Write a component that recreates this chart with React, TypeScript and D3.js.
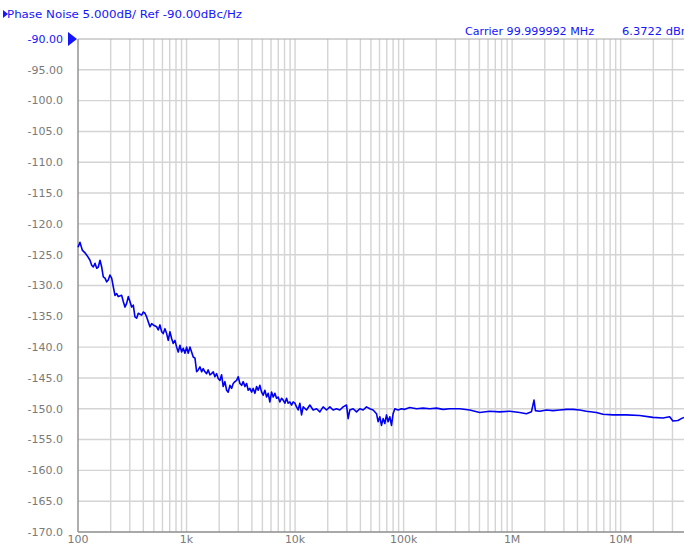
import React from 'react';
import * as d3 from 'd3';

// trace data: offset frequency (Hz) and phase noise (dBc/Hz)
const offsetHz = [
  100, 104.3, 109.5, 116, 121.8, 129, 133.7, 138.3, 143.4, 148.7, 153.8, 159.5, 165.3, 171, 177.3, 183.8, 190.1, 197,
  204.3, 211.4, 219.1, 227.2, 235, 252.6, 261.3, 270.9, 280.8, 290.5, 301.2, 312.2, 323, 334.8, 347.1, 359.1, 385.9,
  399.2, 414, 429.2, 444, 460.3, 477.2, 493.6, 530.5, 548.8, 568.9, 589.8, 610.2, 632.5, 655.8, 678.4, 703.3, 729.1,
  754.2, 782, 810.6, 838.7, 869.4, 901.3, 932.4, 966.7, 1002, 1037, 1075, 1114, 1153, 1196, 1239, 1282, 1329, 1377,
  1425, 1477, 1531, 1584, 1643, 1702, 1762, 1826, 1893, 1958, 2030, 2105, 2178, 2258, 2341, 2421, 2510, 2602, 2692,
  2791, 2893, 2994, 3103, 3217, 3328, 3451, 3577, 3700, 3836, 3977, 4114, 4265, 4422, 4574, 4742, 4914, 5084, 5271,
  5465, 5653, 5861, 6075, 6284, 6516, 6755, 6988, 7244, 7511, 7769, 8055, 8350, 8639, 8957, 9286, 9605, 9958, 10320,
  10680, 11070, 11480, 11880, 12760, 13690, 14680, 15780, 16920, 18150, 19510, 20920, 22430, 24110, 25850, 27730,
  29800, 30830, 31960, 34280, 36840, 39520, 42380, 45530, 48840, 52390, 56290, 58230, 60380, 62600, 64760, 67140,
  69600, 72010, 74640, 77380, 80040, 82980, 88990, 95650, 102600, 114000, 131500, 151200, 174300, 200900, 231100,
  266300, 329300, 406900, 503100, 621900, 768900, 950400, 1175000, 1354000, 1506000, 1591000, 1639000, 1796000,
  2069000, 2380000, 2744000, 3162000, 3637000, 4194000, 4833000, 5974000, 6871000, 8494000, 11290000, 14960000,
  19830000, 24520000, 28270000, 30310000, 33700000, 36220000, 38280000,
];

const noiseDbc = [
  -123.8, -123.0, -124.25, -124.7, -125.2, -125.9, -126.7, -127.0, -126.4, -127.2, -127.0, -125.9, -127.0, -128.6,
  -128.8, -129.4, -129.1, -128.3, -128.8, -130.2, -131.6, -131.3, -131.8, -131.6, -132.6, -133.5, -132.9, -131.8,
  -132.6, -133.5, -133.2, -135.1, -135.3, -134.5, -134.8, -134.3, -134.5, -135.1, -135.9, -136.7, -136.2, -136.4,
  -136.7, -137.2, -136.4, -137.5, -137.8, -137.0, -137.8, -138.9, -137.5, -138.6, -139.4, -138.9, -140.0, -140.8,
  -139.7, -140.8, -140.2, -141.0, -140.0, -141.0, -140.0, -140.8, -141.6, -141.8, -144.0, -143.7, -143.2, -144.0,
  -143.5, -144.0, -144.3, -143.7, -144.5, -144.3, -144.0, -144.8, -144.3, -145.1, -145.4, -144.5, -146.4, -145.6,
  -147.0, -147.3, -146.2, -146.7, -145.9, -145.6, -145.4, -144.8, -145.9, -146.2, -145.6, -146.4, -145.9, -147.0,
  -146.7, -147.3, -146.7, -147.5, -146.4, -147.0, -146.2, -147.3, -147.8, -147.0, -148.1, -147.5, -148.9, -147.3,
  -148.1, -147.5, -148.3, -148.1, -148.9, -148.3, -148.6, -149.1, -148.3, -149.1, -148.9, -149.4, -148.9, -149.1,
  -149.7, -150.2, -149.1, -151.0, -149.7, -150.2, -149.4, -150.2, -150.0, -150.5, -149.7, -150.2, -149.7, -150.2,
  -150.0, -150.2, -149.7, -149.4, -151.6, -150.2, -150.0, -150.5, -150.0, -150.2, -149.7, -150.0, -150.2, -150.8,
  -152.1, -151.3, -152.7, -151.6, -152.4, -151.0, -152.1, -151.3, -152.7, -150.8, -150.0, -150.2, -150.0, -150.1,
  -149.8, -150.0, -149.9, -150.0, -149.9, -150.1, -150.0, -150.0, -150.2, -150.6, -150.4, -150.5, -150.4, -150.6,
  -150.8, -150.5, -148.6, -150.3, -150.4, -150.2, -150.3, -150.2, -150.1, -150.1, -150.2, -150.4, -150.6, -150.9,
  -151.0, -151.0, -151.1, -151.4, -151.5, -151.3, -152.0, -151.9, -151.6, -151.4,
];

const yTickValues = [-90, -95, -100, -105, -110, -115, -120, -125, -130, -135, -140, -145, -150, -155, -160, -165, -170];
const yTickLabels = ['-90.00', '-95.00', '-100.0', '-105.0', '-110.0', '-115.0', '-120.0', '-125.0', '-130.0', '-135.0',
  '-140.0', '-145.0', '-150.0', '-155.0', '-160.0', '-165.0', '-170.0'];
const xTickValues = [100, 1e3, 1e4, 1e5, 1e6, 1e7];
const xTickLabels = ['100', '1k', '10k', '100k', '1M', '10M'];

const W = 684;
const H = 546;
const FONT = '"DejaVu Sans", Tahoma, sans-serif';
const BLUE = '#1414ff';

export default function App() {
  const x = d3.scaleLog().domain([100, 4e7]).range([78, 686]);
  const y = d3.scaleLinear().domain([-170, -90]).range([532, 39]);

  // minor grid: 1..9 x each decade
  const gridX: number[] = [];
  for (let dec = 100; dec < 4e7; dec *= 10) {
    for (let m = 1; m <= 9; m++) {
      const f = dec * m;
      if (f > 100 && f < 4e7) gridX.push(f);
    }
  }

  const points = offsetHz.map((f, i) => [f, noiseDbc[i]] as [number, number]);
  const line = d3
    .line<[number, number]>()
    .x(d => x(d[0]))
    .y(d => y(d[1]));

  return (
    <svg
      width={W}
      height={H}
      style={{ position: 'absolute', left: 0, top: 0, background: '#fff' }}
      fontFamily={FONT}
    >
      <rect width={W} height={H} fill="#fff" />

      {/* header */}
      <path d="M3,10 L8,14 L3,18 Z" fill={BLUE} />
      <text x={7} y={18} fontSize={11} fill={BLUE} textLength={235} lengthAdjust="spacingAndGlyphs">
        Phase Noise 5.000dB/ Ref -90.00dBc/Hz
      </text>
      <text x={465} y={35} fontSize={11} fill={BLUE} textLength={129} lengthAdjust="spacingAndGlyphs">
        Carrier 99.999992 MHz
      </text>
      <text x={622} y={35} fontSize={11} fill={BLUE} textLength={70} lengthAdjust="spacingAndGlyphs">
        6.3722 dBm
      </text>

      {/* grid */}
      {gridX.map(f => (
        <line key={'gx' + f} x1={x(f)} x2={x(f)} y1={y(-90)} y2={y(-170)} stroke="#d4d4d4" strokeWidth={1.4} />
      ))}
      {yTickValues.slice(1, -1).map(v => (
        <line key={'gy' + v} x1={x(100)} x2={W} y1={y(v)} y2={y(v)} stroke="#d4d4d4" strokeWidth={1.4} />
      ))}
      <line x1={x(100)} x2={W} y1={y(-90)} y2={y(-90)} stroke="#a8a8a8" strokeWidth={1} />

      {/* axes */}
      <line x1={x(100)} x2={x(100)} y1={y(-90)} y2={y(-170)} stroke="#8c8c8c" strokeWidth={1.4} />
      <line x1={x(100)} x2={W} y1={y(-170)} y2={y(-170)} stroke="#8c8c8c" strokeWidth={1.4} />

      {/* y labels */}
      {yTickValues.map((v, i) => (
        <text
          key={'yl' + v}
          x={63}
          y={y(v)}
          dy="0.35em"
          textAnchor="end"
          fontSize={11}
          fill={i === 0 ? BLUE : '#7a7a7a'}
        >
          {yTickLabels[i]}
        </text>
      ))}
      {/* reference marker */}
      <path d={`M68,${y(-90) - 7} L77,${y(-90)} L68,${y(-90) + 7} Z`} fill={BLUE} />

      {/* x labels */}
      {xTickValues.map((f, i) => (
        <text key={'xl' + f} x={x(f)} y={543} textAnchor="middle" fontSize={11} fill="#7a7a7a">
          {xTickLabels[i]}
        </text>
      ))}

      {/* trace */}
      <path d={line(points) ?? ''} fill="none" stroke="#0000f0" strokeWidth={1.6} strokeLinejoin="round" />
    </svg>
  );
}
